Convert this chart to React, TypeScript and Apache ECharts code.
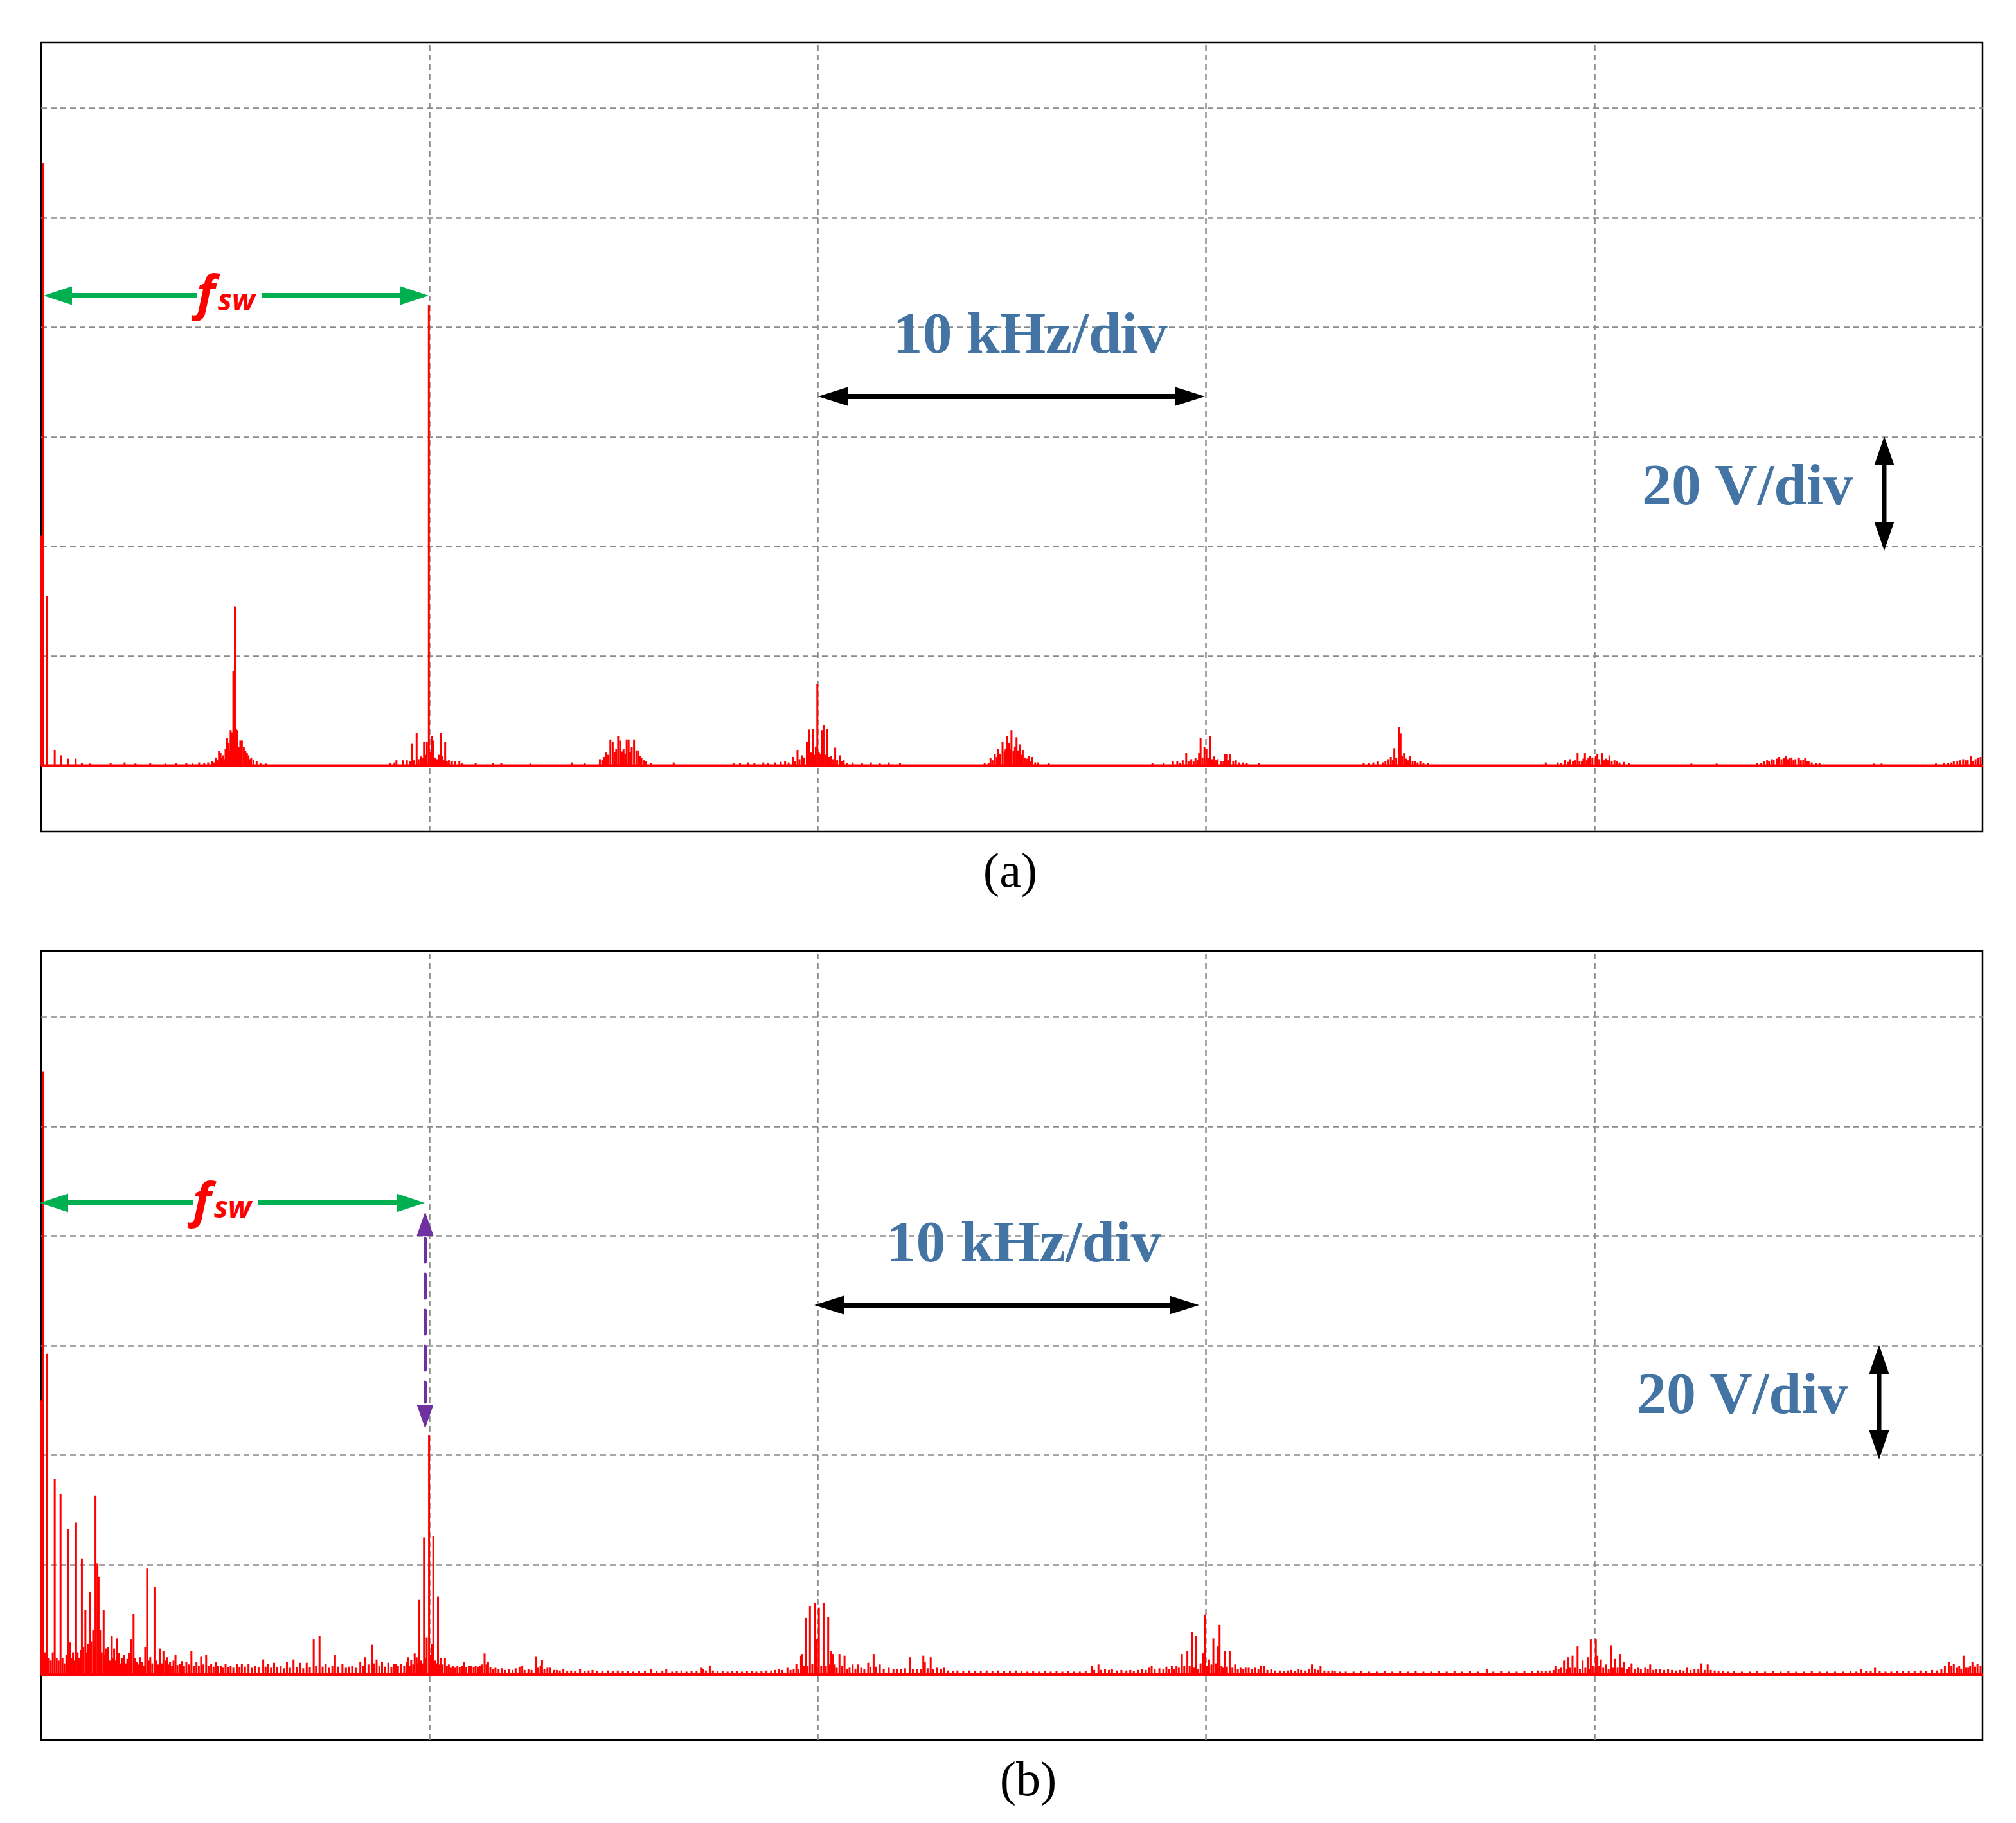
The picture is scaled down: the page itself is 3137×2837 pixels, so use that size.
import React, { useEffect, useRef } from "react";
import * as echarts from "echarts";

const W = 3137;
const H = 2837;

// Axis settings (kHz and V)
const X_MIN = 0;
const X_MAX = 50;
const X_GRID = [10, 20, 30, 40];
const Y_MIN = -12;
const Y_MAX = 132;
const Y_GRID = [0, 20, 40, 60, 80, 100, 120];

// ---------- Panel (a) spectrum lines: [frequency kHz, amplitude V] ----------
const A_LOW = [[0.0, 42], [0.05, 110], [0.15, 31], [0.35, 2.9], [0.51, 1.9], [0.7, 1.3], [0.89, 1.3], [1.05, 0.5], [1.25, 0.4], [1.79, 0.5], [2.15, 0.6], [2.43, 0.4], [2.81, 0.5], [3.2, 0.4], [3.48, 0.5], [3.74, 0.5], [3.9, 0.4], [4.07, 0.6], [4.2, 0.5], [4.3, 0.6]];
const A_5K = [[4.41, 0.8], [4.46, 0.6], [4.5, 1.5], [4.54, 1.0], [4.58, 2.7], [4.62, 2.3], [4.65, 1.4], [4.68, 1.9], [4.72, 1.2], [4.75, 3.1], [4.79, 5.0], [4.83, 4.2], [4.86, 2.8], [4.88, 6.5], [4.92, 6.1], [4.95, 17.3], [4.99, 29.1], [5.02, 6.7], [5.05, 6.5], [5.09, 3.4], [5.13, 4.6], [5.17, 4.6], [5.22, 3.4], [5.26, 2.7], [5.3, 2.3], [5.34, 1.9], [5.38, 1.2], [5.41, 1.5], [5.47, 1.1], [5.55, 0.8], [5.65, 0.5], [5.8, 0.4]];
const A_10K = [[8.98, 0.5], [9.1, 0.6], [9.15, 1.0], [9.31, 1.0], [9.42, 1.0], [9.5, 0.8], [9.545, 4.0], [9.6, 1.0], [9.67, 5.95], [9.72, 1.2], [9.78, 1.7], [9.83, 1.5], [9.86, 4.3], [9.9, 2.0], [9.935, 4.3], [9.985, 84], [10.03, 2.5], [10.06, 5.4], [10.1, 4.6], [10.15, 1.5], [10.2, 1.2], [10.25, 2.0], [10.29, 5.95], [10.33, 1.7], [10.37, 1.0], [10.405, 4.3], [10.45, 0.8], [10.5, 1.0], [10.58, 0.9], [10.65, 0.8], [10.77, 0.9], [10.85, 0.5], [11.19, 0.5], [11.63, 0.5], [11.85, 0.5], [12.6, 0.4], [13.68, 0.6]];
const A_15K = [[14.0, 0.5], [14.39, 1.2], [14.45, 1.0], [14.5, 1.6], [14.55, 2.4], [14.6, 2.0], [14.66, 4.8], [14.72, 4.3], [14.77, 2.5], [14.81, 3.0], [14.86, 5.4], [14.91, 4.6], [14.96, 2.6], [15.0, 3.0], [15.04, 2.2], [15.08, 4.8], [15.13, 4.8], [15.17, 2.5], [15.21, 3.4], [15.27, 4.8], [15.33, 2.8], [15.38, 2.8], [15.42, 1.8], [15.46, 1.5], [15.52, 1.0], [15.57, 0.9], [15.71, 0.5], [16.29, 0.6], [17.83, 0.5], [18.0, 0.5], [18.2, 0.6], [18.37, 0.5], [18.6, 0.6], [18.72, 0.5], [18.9, 0.6], [19.05, 0.7]];
const A_20K = [[19.16, 0.8], [19.25, 0.6], [19.37, 1.6], [19.42, 0.9], [19.48, 2.9], [19.53, 1.2], [19.6, 1.9], [19.65, 1.5], [19.72, 4.3], [19.77, 6.6], [19.82, 2.4], [19.88, 6.7], [19.92, 2.0], [19.95, 3.5], [19.99, 14.9], [20.03, 2.4], [20.07, 2.2], [20.11, 6.5], [20.15, 7.4], [20.2, 2.0], [20.24, 6.7], [20.29, 1.6], [20.34, 1.8], [20.4, 1.2], [20.45, 3.3], [20.5, 1.0], [20.58, 1.9], [20.62, 0.8], [20.67, 1.0], [20.75, 0.5], [20.9, 0.6], [21.14, 0.5], [21.37, 0.6], [21.6, 0.5], [21.83, 0.6], [22.12, 0.5]];
const A_25K = [[24.3, 0.5], [24.4, 0.5], [24.45, 1.4], [24.5, 1.0], [24.56, 2.1], [24.61, 1.6], [24.65, 3.1], [24.7, 2.2], [24.76, 4.3], [24.81, 2.6], [24.84, 3.0], [24.88, 5.4], [24.92, 4.1], [24.95, 3.0], [24.99, 6.5], [25.04, 2.7], [25.08, 3.5], [25.12, 5.2], [25.16, 2.8], [25.2, 3.9], [25.24, 2.0], [25.28, 2.9], [25.33, 1.5], [25.38, 1.3], [25.43, 1.8], [25.48, 0.9], [25.53, 1.6], [25.6, 0.6], [25.67, 0.6], [25.95, 0.5], [28.62, 0.5], [28.91, 0.5]];
const A_30K = [[29.15, 0.8], [29.26, 0.8], [29.33, 0.5], [29.4, 1.0], [29.49, 2.3], [29.55, 0.8], [29.62, 1.2], [29.68, 0.9], [29.73, 1.4], [29.78, 1.1], [29.82, 2.3], [29.86, 5.1], [29.91, 1.5], [29.96, 3.4], [30.01, 3.0], [30.05, 1.4], [30.1, 5.4], [30.15, 1.2], [30.2, 1.7], [30.25, 1.0], [30.3, 1.2], [30.38, 0.9], [30.45, 0.8], [30.49, 2.1], [30.54, 2.1], [30.58, 1.0], [30.62, 2.1], [30.7, 0.8], [30.77, 1.0], [30.85, 0.6], [30.95, 0.6], [31.05, 0.5], [31.37, 0.5]];
const A_35K = [[34.06, 0.5], [34.2, 0.5], [34.31, 0.6], [34.43, 0.9], [34.55, 0.6], [34.62, 0.9], [34.7, 1.2], [34.76, 1.6], [34.81, 1.0], [34.85, 3.2], [34.9, 1.5], [34.97, 7.1], [35.01, 5.9], [35.05, 1.8], [35.1, 2.3], [35.15, 1.3], [35.21, 1.0], [35.26, 1.8], [35.32, 0.8], [35.39, 0.9], [35.45, 0.6], [35.52, 0.8], [35.6, 0.5], [35.72, 0.5], [38.75, 0.6]];
const A_40K = [[39.06, 0.6], [39.15, 0.5], [39.25, 1.1], [39.32, 0.7], [39.38, 1.2], [39.45, 0.8], [39.5, 1.0], [39.57, 2.3], [39.62, 0.9], [39.68, 0.9], [39.72, 1.3], [39.76, 2.3], [39.81, 1.0], [39.85, 1.5], [39.89, 1.8], [39.95, 1.5], [40.04, 1.8], [40.08, 2.2], [40.13, 1.2], [40.2, 2.3], [40.25, 1.0], [40.3, 1.3], [40.35, 1.0], [40.39, 1.9], [40.45, 0.8], [40.52, 1.0], [40.58, 0.9], [40.65, 0.6], [40.77, 0.7], [40.9, 0.5], [42.5, 0.4], [43.15, 0.4]];
const A_45K = [[44.19, 0.5], [44.3, 0.5], [44.38, 0.9], [44.45, 1.0], [44.5, 0.9], [44.57, 1.2], [44.62, 1.1], [44.7, 1.3], [44.76, 1.6], [44.82, 1.2], [44.88, 1.4], [44.93, 1.8], [44.98, 1.2], [45.03, 1.4], [45.08, 1.5], [45.13, 1.0], [45.18, 1.2], [45.27, 1.5], [45.32, 1.0], [45.38, 1.1], [45.43, 1.4], [45.48, 0.9], [45.52, 0.9], [45.6, 0.6], [45.71, 0.5], [45.8, 0.5], [47.2, 0.4], [47.4, 0.4]];
const A_50K = [[48.8, 0.4], [49.0, 0.5], [49.1, 0.5], [49.2, 0.6], [49.26, 0.8], [49.35, 0.8], [49.42, 1.0], [49.5, 1.2], [49.56, 1.0], [49.62, 1.0], [49.7, 1.8], [49.76, 0.9], [49.82, 1.2], [49.89, 1.5], [49.95, 1.6]];

// ---------- Panel (b) spectrum lines ----------
const B_LOW = [[0.0, 50], [0.05, 110], [0.1, 4], [0.15, 58.5], [0.2, 3], [0.25, 2.5], [0.3, 4], [0.35, 35.7], [0.4, 3], [0.45, 2.5], [0.5, 32.9], [0.55, 3], [0.6, 2], [0.65, 3.5], [0.7, 26.5], [0.74, 5.8], [0.78, 3], [0.82, 4], [0.86, 2.5], [0.9, 27.7], [0.94, 4], [0.98, 3], [1.02, 4.5], [1.05, 21.1], [1.09, 5], [1.14, 11.8], [1.18, 4], [1.21, 5.5], [1.25, 15.1], [1.29, 6], [1.34, 8.1], [1.37, 5], [1.4, 32.6], [1.45, 20.2], [1.48, 17.8], [1.52, 8.1], [1.56, 4], [1.61, 11.8], [1.64, 3.5], [1.67, 4.7], [1.7, 3], [1.73, 5], [1.77, 2.5], [1.82, 7], [1.85, 3], [1.88, 4.7], [1.91, 2.5], [1.95, 6.6], [2.0, 3.9], [2.05, 2], [2.09, 3], [2.13, 3.5], [2.18, 2], [2.22, 2.8], [2.26, 3.9], [2.32, 6.4], [2.38, 11.1], [2.42, 3], [2.47, 2.3], [2.51, 1.8], [2.55, 3.1], [2.6, 2.2], [2.64, 1.5], [2.68, 5], [2.73, 19.4], [2.77, 2.5], [2.81, 3.1], [2.86, 2], [2.92, 16], [2.96, 2.5], [3.01, 1.8]];
const B_MID = [[3.07, 4.7], [3.11, 2], [3.15, 4.3], [3.2, 2.5], [3.24, 3.1], [3.28, 1.8], [3.32, 2.3], [3.37, 1.5], [3.41, 2.5], [3.46, 3.5], [3.51, 1.7], [3.57, 1.9], [3.62, 2.4], [3.68, 1.5], [3.74, 2.3], [3.8, 1.8], [3.87, 4.3], [3.93, 1.6], [4.0, 2.3], [4.06, 1.5], [4.12, 3.3], [4.18, 1.8], [4.25, 3.5], [4.31, 1.5], [4.38, 1.9], [4.44, 1.4], [4.5, 2.3], [4.56, 1.6], [4.63, 1.6], [4.69, 1.2], [4.75, 1.9], [4.81, 1.3], [4.88, 1.6], [4.95, 1.2], [5.05, 1.9], [5.11, 1.3], [5.17, 1.9], [5.25, 1.4], [5.34, 1.9], [5.42, 1.2], [5.51, 1.6], [5.6, 1.3], [5.72, 2.7], [5.78, 1.4], [5.85, 1.9], [5.92, 1.2], [6.0, 2.1], [6.08, 1.3], [6.17, 1.6], [6.25, 1.1], [6.33, 2.3], [6.41, 1.2], [6.5, 2.7], [6.58, 1.3], [6.67, 2.1], [6.75, 1.1], [6.84, 2.1], [6.92, 1.3], [7.02, 6.4], [7.08, 1.5], [7.17, 7.0], [7.25, 1.4], [7.33, 1.9], [7.41, 1.2], [7.5, 1.6], [7.57, 3.5], [7.65, 1.4], [7.76, 1.9], [7.85, 1.2], [7.93, 1.4], [8.01, 1.6], [8.1, 1.2], [8.22, 2.3], [8.3, 1.5], [8.35, 3.1], [8.43, 1.8], [8.52, 5.4], [8.58, 2.0], [8.64, 2.7], [8.71, 1.6], [8.78, 2.3], [8.86, 1.4], [8.94, 2.1], [9.02, 1.3], [9.08, 1.9], [9.14, 1.9], [9.19, 1.5], [9.27, 1.9], [9.35, 1.6], [9.42, 2.3], [9.45, 3.1]];
const B_10K = [[9.49, 1.6], [9.53, 2.6], [9.58, 1.8], [9.62, 3.8], [9.67, 3.1], [9.7, 2.0], [9.74, 13.6], [9.78, 2.5], [9.82, 2.0], [9.86, 25], [9.9, 3], [9.93, 6.7], [9.99, 43.7], [10.03, 3.5], [10.06, 5.5], [10.1, 25.2], [10.14, 2.5], [10.18, 2.0], [10.22, 14.2], [10.26, 1.8], [10.29, 3.0], [10.34, 1.8], [10.4, 3.0], [10.45, 1.5], [10.5, 1.8], [10.55, 1.2], [10.6, 1.5], [10.66, 1.2], [10.72, 1.5], [10.78, 1.3], [10.84, 1.5], [10.89, 2.2], [10.95, 1.3], [11.02, 1.5], [11.08, 1.6], [11.14, 1.3], [11.19, 1.6], [11.25, 1.4], [11.3, 1.6], [11.36, 1.8], [11.42, 3.8], [11.47, 1.8], [11.51, 2.2], [11.57, 1.3], [11.63, 1.0], [11.7, 1.2], [11.78, 0.9], [11.86, 1.1], [11.95, 0.8], [12.05, 1.0], [12.14, 0.8], [12.22, 1.1], [12.32, 1.4], [12.39, 1.5], [12.45, 0.8], [12.55, 0.9], [12.63, 0.8], [12.74, 3.3], [12.8, 1.2], [12.86, 1.5], [12.9, 2.6], [12.96, 1.0], [13.04, 1.2], [13.1, 1.2], [13.2, 0.8], [13.28, 0.8], [13.36, 0.7], [13.45, 0.9], [13.55, 0.6], [13.65, 0.7], [13.75, 0.6], [13.88, 0.9], [14.0, 0.6], [14.1, 0.7], [14.2, 0.8], [14.32, 0.6], [14.45, 0.6], [14.6, 0.7], [14.72, 0.6], [14.85, 0.7], [14.98, 0.6], [15.12, 0.6], [15.25, 0.5], [15.4, 0.6], [15.55, 0.6], [15.7, 0.9], [15.85, 0.6], [16.0, 0.6], [16.1, 0.9], [16.25, 0.5], [16.37, 0.6], [16.49, 0.7], [16.62, 0.5], [16.75, 0.6], [16.88, 0.6], [17.01, 1.2], [17.04, 0.9], [17.12, 0.7], [17.22, 1.5], [17.3, 0.7], [17.42, 0.6], [17.55, 0.6], [17.68, 0.5], [17.8, 0.6], [17.92, 0.6], [18.05, 0.5], [18.18, 0.6], [18.3, 0.6], [18.42, 0.5], [18.55, 0.6], [18.68, 0.7], [18.8, 0.7], [18.9, 0.8], [19.0, 1.0], [19.08, 0.8]];
const B_20K = [[19.22, 1.2], [19.3, 0.8], [19.38, 1.0], [19.45, 1.9], [19.5, 1.0], [19.57, 3.4], [19.6, 3.7], [19.64, 1.5], [19.69, 10.3], [19.74, 1.5], [19.8, 12.5], [19.86, 1.9], [19.92, 13.1], [19.98, 6.4], [20.03, 12.2], [20.09, 1.5], [20.15, 13.1], [20.21, 1.5], [20.27, 10.5], [20.31, 1.8], [20.35, 4.2], [20.39, 3.7], [20.44, 1.8], [20.49, 1.2], [20.56, 3.7], [20.62, 1.5], [20.69, 3.4], [20.75, 1.0], [20.82, 1.2], [20.9, 1.8], [20.97, 1.0], [21.04, 1.8], [21.12, 1.2], [21.2, 1.0], [21.3, 2.1], [21.36, 1.4], [21.44, 3.7], [21.5, 1.4], [21.6, 1.8], [21.7, 1.0], [21.83, 1.2], [21.95, 0.9], [22.05, 1.0], [22.15, 0.9], [22.25, 1.1], [22.37, 3.1], [22.45, 1.0], [22.55, 0.9], [22.65, 1.0], [22.72, 3.4], [22.76, 2.3], [22.83, 1.1], [22.91, 3.1], [22.98, 1.0], [23.08, 1.2], [23.18, 0.9], [23.26, 1.2], [23.35, 0.7], [23.48, 0.6], [23.6, 0.7], [23.75, 0.6], [23.9, 0.7], [24.05, 0.6], [24.2, 0.6], [24.35, 0.7], [24.5, 0.6], [24.65, 0.7], [24.8, 0.6], [24.95, 0.6], [25.1, 0.7], [25.25, 0.6], [25.4, 0.5], [25.55, 0.6], [25.7, 0.5], [25.85, 0.6], [26.0, 0.5], [26.15, 0.6], [26.3, 0.5], [26.45, 0.6], [26.6, 0.5], [26.75, 0.5], [26.9, 0.6]];
const B_30K = [[27.06, 1.5], [27.12, 0.8], [27.23, 1.8], [27.3, 0.8], [27.4, 0.9], [27.5, 0.8], [27.58, 1.0], [27.7, 0.7], [27.82, 0.8], [27.95, 0.7], [28.05, 0.8], [28.14, 0.6], [28.25, 0.8], [28.35, 0.9], [28.45, 0.8], [28.54, 1.2], [28.6, 1.5], [28.68, 1.0], [28.8, 1.1], [28.9, 0.9], [28.98, 1.4], [29.05, 1.0], [29.12, 1.5], [29.18, 1.0], [29.24, 1.5], [29.3, 1.2], [29.38, 3.7], [29.44, 1.5], [29.52, 4.2], [29.58, 1.5], [29.64, 7.8], [29.7, 1.2], [29.75, 7.0], [29.8, 1.0], [29.86, 2.0], [29.93, 3.9], [29.98, 10.9], [30.03, 1.5], [30.08, 2.7], [30.14, 1.8], [30.19, 6.6], [30.25, 2.0], [30.31, 5.1], [30.35, 9.0], [30.4, 1.5], [30.44, 1.2], [30.48, 4.2], [30.54, 1.4], [30.61, 4.2], [30.68, 1.2], [30.75, 1.8], [30.82, 1.0], [30.89, 1.2], [30.96, 1.0], [31.02, 1.2], [31.1, 1.2], [31.18, 0.9], [31.27, 1.2], [31.35, 0.9], [31.42, 1.5], [31.5, 1.5], [31.58, 0.8], [31.68, 0.9], [31.78, 0.7], [31.9, 0.7], [32.0, 0.6], [32.1, 0.7], [32.2, 0.8], [32.29, 0.6], [32.37, 0.9], [32.45, 0.8], [32.55, 0.7], [32.65, 0.9], [32.73, 1.8], [32.8, 0.9], [32.88, 0.8], [32.95, 1.5], [33.05, 0.7], [33.15, 0.6], [33.25, 0.7], [33.32, 0.6], [33.45, 0.5], [33.6, 0.5], [33.8, 0.5], [34.0, 0.6], [34.2, 0.5], [34.4, 0.5], [34.6, 0.6], [34.8, 0.5], [35.0, 0.6], [35.2, 0.5], [35.4, 0.6], [35.6, 0.5], [35.8, 0.5], [36.0, 0.6], [36.2, 0.5], [36.4, 0.6], [36.6, 0.5], [36.8, 0.6], [37.0, 0.5], [37.23, 0.9], [37.4, 0.5], [37.6, 0.6], [37.8, 0.5], [38.0, 0.5], [38.2, 0.6], [38.4, 0.6], [38.55, 0.7], [38.65, 0.6], [38.75, 0.6], [38.85, 0.7], [38.95, 0.8]];
const B_40K = [[39.0, 1.5], [39.08, 0.9], [39.15, 1.2], [39.22, 2.5], [39.28, 1.0], [39.32, 3.1], [39.38, 1.2], [39.44, 3.4], [39.5, 1.2], [39.57, 5.1], [39.63, 1.0], [39.7, 2.5], [39.77, 1.2], [39.83, 3.1], [39.87, 1.0], [39.91, 6.4], [39.96, 1.5], [40.04, 6.4], [40.08, 3.4], [40.13, 1.5], [40.17, 2.7], [40.23, 1.2], [40.3, 1.8], [40.37, 1.0], [40.43, 5.3], [40.49, 1.2], [40.54, 2.8], [40.6, 1.2], [40.66, 3.7], [40.72, 1.2], [40.77, 2.2], [40.84, 1.0], [40.9, 1.3], [40.96, 2.0], [41.04, 1.0], [41.12, 1.2], [41.2, 0.9], [41.31, 1.2], [41.38, 0.9], [41.44, 1.8], [41.52, 0.8], [41.6, 1.0], [41.7, 0.9], [41.8, 0.8], [41.9, 0.9], [42.0, 0.8], [42.1, 0.7], [42.2, 0.8], [42.3, 0.7], [42.38, 1.2], [42.48, 0.8], [42.58, 0.9], [42.68, 0.9], [42.76, 2.0], [42.84, 0.8], [42.92, 1.8], [43.0, 0.8], [43.1, 0.7], [43.2, 0.6], [43.32, 0.6], [43.45, 0.5], [43.6, 0.6], [43.8, 0.5], [44.0, 0.5], [44.2, 0.6], [44.4, 0.5], [44.6, 0.6], [44.8, 0.5], [45.0, 0.6], [45.2, 0.5], [45.4, 0.5], [45.6, 0.6], [45.8, 0.5], [46.0, 0.5], [46.2, 0.5], [46.4, 0.5], [46.6, 0.6], [46.75, 0.5], [46.88, 1.0], [47.0, 0.6], [47.12, 0.6], [47.23, 1.2], [47.35, 0.6], [47.5, 0.5], [47.65, 0.5], [47.8, 0.6], [47.95, 0.6], [48.1, 0.6], [48.25, 0.6], [48.4, 0.7], [48.55, 0.6], [48.7, 0.8], [48.82, 0.7], [48.94, 1.0], [49.03, 1.5], [49.13, 2.3], [49.2, 1.5], [49.26, 1.9], [49.33, 1.2], [49.4, 1.5], [49.45, 1.0], [49.51, 3.4], [49.57, 1.2], [49.63, 1.2], [49.68, 1.5], [49.74, 2.3], [49.8, 1.4], [49.87, 1.9], [49.95, 1.5]];

const SPEC_A = [...A_LOW, ...A_5K, ...A_10K, ...A_15K, ...A_20K, ...A_25K, ...A_30K, ...A_35K, ...A_40K, ...A_45K, ...A_50K];
const SPEC_B = [...B_LOW, ...B_MID, ...B_10K, ...B_20K, ...B_30K, ...B_40K];
const BASELINE = [[X_MIN, 0], [X_MAX, 0]];

const RED = "#ff0000";
const GRID_GRAY = "#8a8a8a";
const BLUE_TXT = "#4374a4";
const GREEN = "#00b050";
const PURPLE = "#7030a0";

const PANELS = [
  { top: 66, spec: SPEC_A },
  { top: 1480, spec: SPEC_B },
];
const PLOT_LEFT = 64;
const PLOT_WIDTH = 3021;
const PLOT_HEIGHT = 1228;

function hArrow(x1: number, x2: number, y: number, head: number, half: number, lw: number, color: string, gap?: [number, number]) {
  const els: any[] = [
    { type: "polygon", z: 100, shape: { points: [[x1, y], [x1 + head, y - half], [x1 + head, y + half]] }, style: { fill: color } },
    { type: "polygon", z: 100, shape: { points: [[x2, y], [x2 - head, y - half], [x2 - head, y + half]] }, style: { fill: color } },
  ];
  const segs = gap ? [[x1 + head - 2, gap[0]], [gap[1], x2 - head + 2]] : [[x1 + head - 2, x2 - head + 2]];
  segs.forEach(([a, b]) => els.push({ type: "line", z: 99, shape: { x1: a, y1: y, x2: b, y2: y }, style: { stroke: color, lineWidth: lw } }));
  return els;
}

function vArrow(x: number, y1: number, y2: number, head: number, half: number, lw: number, color: string, dash?: number[]) {
  return [
    { type: "polygon", z: 100, shape: { points: [[x, y1], [x - half, y1 + head], [x + half, y1 + head]] }, style: { fill: color } },
    { type: "polygon", z: 100, shape: { points: [[x, y2], [x - half, y2 - head], [x + half, y2 - head]] }, style: { fill: color } },
    { type: "line", z: 99, shape: { x1: x, y1: y1 + head - (dash ? -4 : 2), x2: x, y2: y2 - head + (dash ? -4 : 2) }, style: { stroke: color, lineWidth: lw, lineDash: dash || null, lineCap: dash ? "round" : "butt" } },
  ];
}

function txt(x: number, y: number, text: string, size: number, family: string, color: string, weight = "normal", style = "normal", align = "center") {
  return { type: "text", z: 101, x, y, style: { text, fontSize: size, fontFamily: family, fontWeight: weight, fontStyle: style, fill: color, align, verticalAlign: "middle" } };
}

function fsw(y: number, dx: number) {
  return [
    txt(306 + dx, y - 8, "f", 76, "Noto Sans", RED, "bold", "italic", "left"),
    txt(339 + dx, y + 5, "sw", 46, "Noto Sans", RED, "bold", "italic", "left"),
  ];
}

export default function App() {
  const ref = useRef<HTMLDivElement>(null);
  useEffect(() => {
    if (!ref.current) return;
    const chart = echarts.init(ref.current, null, { renderer: "svg", width: W, height: H });
    const grids = PANELS.map((p) => ({ left: PLOT_LEFT, top: p.top, width: PLOT_WIDTH, height: PLOT_HEIGHT, show: true, borderColor: "#000", borderWidth: 2.5, backgroundColor: "transparent", containLabel: false }));
    const xAxes = PANELS.map((_, i) => ({ type: "value", gridIndex: i, min: X_MIN, max: X_MAX, interval: 10, axisLine: { show: false }, axisTick: { show: false }, axisLabel: { show: false }, splitLine: { show: false } }));
    const yAxes = PANELS.map((_, i) => ({ type: "value", gridIndex: i, min: Y_MIN, max: Y_MAX, axisLine: { show: false }, axisTick: { show: false }, axisLabel: { show: false }, splitLine: { show: false } }));
    const series: any[] = [];
    PANELS.forEach((p, i) => {
      series.push({
        type: "line", xAxisIndex: i, yAxisIndex: i, data: BASELINE, symbol: "none", silent: true, z: 4,
        lineStyle: { color: RED, width: 4.5 },
        markLine: {
          silent: true, z: 1, symbol: ["none", "none"], label: { show: false },
          lineStyle: { color: GRID_GRAY, type: [9, 6], width: 2.5 },
          emphasis: { disabled: true },
          data: [...Y_GRID.map((v) => ({ yAxis: v })), ...X_GRID.map((v) => ({ xAxis: v }))],
        },
      });
      series.push({ type: "bar", xAxisIndex: i, yAxisIndex: i, data: p.spec, barWidth: 3, z: 3, silent: true, itemStyle: { color: RED } });
    });
    const dy = 1414;
    const graphic: any[] = [
      // panel (a)
      ...hArrow(68, 667, 460, 44, 14.5, 8, GREEN, [307, 407]),
      ...fsw(460, 0),
      txt(1603, 518, "10 kHz/div", 92, "Liberation Serif", BLUE_TXT, "bold"),
      ...hArrow(1273, 1875, 617, 46, 14.5, 8, "#000"),
      txt(2719, 754, "20 V/div", 92, "Liberation Serif", BLUE_TXT, "bold"),
      ...vArrow(2932, 679, 857, 45, 15.5, 7, "#000"),
      txt(1572, 1354, "(a)", 76, "Liberation Serif", "#000"),
      // panel (b)
      ...hArrow(62, 661, 460 + dy - 2, 44, 14.5, 8, GREEN, [300, 401]),
      ...fsw(460 + dy - 2, -6),
      txt(1593, 518 + dy, "10 kHz/div", 92, "Liberation Serif", BLUE_TXT, "bold"),
      ...hArrow(1267, 1866, 617 + dy, 46, 14.5, 8, "#000"),
      txt(2711, 754 + dy, "20 V/div", 92, "Liberation Serif", BLUE_TXT, "bold"),
      ...vArrow(2924, 679 + dy, 857 + dy, 45, 15.5, 7, "#000"),
      ...vArrow(661.5, 1886, 2223, 37, 13, 5, PURPLE, [37, 19]),
      txt(1600, 1354 + dy, "(b)", 76, "Liberation Serif", "#000"),
    ];
    chart.setOption({
      animation: false,
      backgroundColor: "#ffffff",
      grid: grids,
      xAxis: xAxes,
      yAxis: yAxes,
      series,
      graphic,
    });
    return () => chart.dispose();
  }, []);
  return <div ref={ref} style={{ position: "absolute", left: 0, top: 0, width: W, height: H, background: "#fff" }} />;
}
